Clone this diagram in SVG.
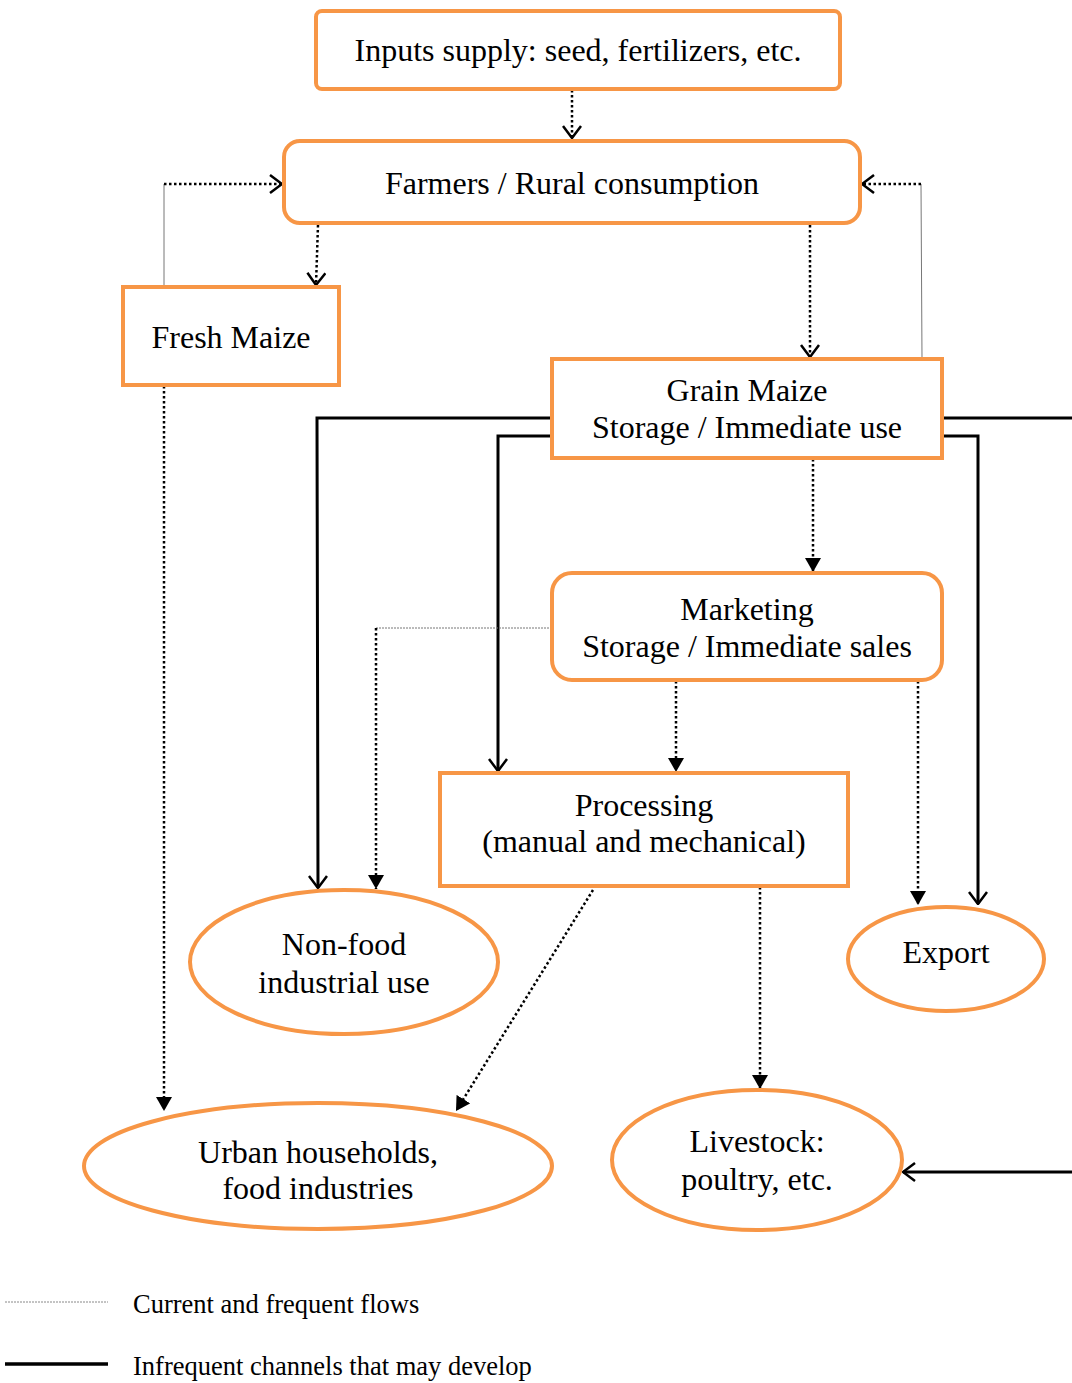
<svg xmlns="http://www.w3.org/2000/svg" width="1072" height="1383" viewBox="0 0 1072 1383">
<style>
.n{fill:#fff;stroke:#F79646;stroke-width:4}
.t{font-family:"Liberation Serif","Times New Roman",serif;font-size:32px;fill:#000;text-anchor:middle}
.lg{font-family:"Liberation Serif","Times New Roman",serif;font-size:26.5px;fill:#000}
.dot{fill:none;stroke:#000;stroke-width:2.5;stroke-dasharray:2.5 2.5}
.thin{fill:none;stroke:#777;stroke-width:1}
.sol{fill:none;stroke:#000;stroke-width:3}
</style>
<defs>
<marker id="open" viewBox="0 0 14 20" refX="13" refY="10" markerWidth="14" markerHeight="20" markerUnits="userSpaceOnUse" orient="auto">
<path d="M1,1 L13,10 L1,19" fill="none" stroke="#000" stroke-width="2.5"/>
</marker>
<marker id="fill" viewBox="0 0 14 16" refX="14" refY="8" markerWidth="14" markerHeight="16" markerUnits="userSpaceOnUse" orient="auto">
<path d="M0,0 L14,8 L0,16 Z" fill="#000"/>
</marker>
</defs>
<g id="connectors">
<path class="dot" d="M572,90 V138" marker-end="url(#open)"/>
<path class="thin" d="M164,287 V184"/>
<path class="dot" d="M164,184 H282" marker-end="url(#open)"/>
<path class="dot" d="M318,225 L316,285" marker-end="url(#open)"/>
<path class="dot" d="M810,225 V357" marker-end="url(#open)"/>
<path class="thin" d="M922,359 L921,184"/>
<path class="dot" d="M921,184 H862" marker-end="url(#open)"/>
<path class="sol" d="M552,418 H317 L318,888" marker-end="url(#open)"/>
<path class="sol" d="M552,436 H498 V771" marker-end="url(#open)"/>
<path class="sol" d="M942,418 H1072"/>
<path class="sol" d="M942,436 H978 V904" marker-end="url(#open)"/>
<path class="dot" d="M813,459 V572" marker-end="url(#fill)"/>
<path class="thin" d="M552,628 H376" stroke-dasharray="2 1"/>
<path class="dot" d="M376,628 V889" marker-end="url(#fill)"/>
<path class="dot" d="M676,681 V772" marker-end="url(#fill)"/>
<path class="dot" d="M918,681 V905" marker-end="url(#fill)"/>
<path class="dot" d="M164,386 V1111" marker-end="url(#fill)"/>
<path class="dot" d="M593,890 L456,1111" marker-end="url(#fill)"/>
<path class="dot" d="M760,887 V1089" marker-end="url(#fill)"/>
<path class="sol" d="M1072,1172 H903" marker-end="url(#open)"/>
</g>
<g id="inputs"><rect class="n" x="316" y="11" width="524" height="78" rx="6"/><text class="t" x="578" y="61">Inputs supply: seed, fertilizers, etc.</text></g>
<g id="farmers"><rect class="n" x="284" y="141" width="576" height="82" rx="16"/><text class="t" x="572" y="194">Farmers / Rural consumption</text></g>
<g id="fresh"><rect class="n" x="123" y="287" width="216" height="98"/><text class="t" x="231" y="348">Fresh Maize</text></g>
<g id="grain"><rect class="n" x="552" y="359" width="390" height="99"/><text class="t" x="747" y="401">Grain Maize</text><text class="t" x="747" y="438">Storage / Immediate use</text></g>
<g id="marketing"><rect class="n" x="552" y="573" width="390" height="107" rx="20"/><text class="t" x="747" y="620">Marketing</text><text class="t" x="747" y="657">Storage / Immediate sales</text></g>
<g id="processing"><rect class="n" x="440" y="773" width="408" height="113"/><text class="t" x="644" y="816">Processing</text><text class="t" x="644" y="852">(manual and mechanical)</text></g>
<g id="nonfood"><ellipse class="n" cx="344" cy="962" rx="154" ry="72"/><text class="t" x="344" y="955">Non-food</text><text class="t" x="344" y="993">industrial use</text></g>
<g id="export"><ellipse class="n" cx="946" cy="959" rx="98" ry="52"/><text class="t" x="946" y="963">Export</text></g>
<g id="urban"><ellipse class="n" cx="318" cy="1166" rx="234" ry="63"/><text class="t" x="318" y="1163">Urban households,</text><text class="t" x="318" y="1199">food industries</text></g>
<g id="livestock"><ellipse class="n" cx="757" cy="1160" rx="145" ry="70"/><text class="t" x="757" y="1152">Livestock:</text><text class="t" x="757" y="1190">poultry, etc.</text></g>
<g id="legend">
<path d="M5,1302 H108" stroke="#888" stroke-width="1" stroke-dasharray="2 1"/>
<text class="lg" x="133" y="1313">Current and frequent flows</text>
<path d="M5,1364 H108" stroke="#000" stroke-width="3.5"/>
<text class="lg" x="133" y="1375">Infrequent channels that may develop</text>
</g>
</svg>
